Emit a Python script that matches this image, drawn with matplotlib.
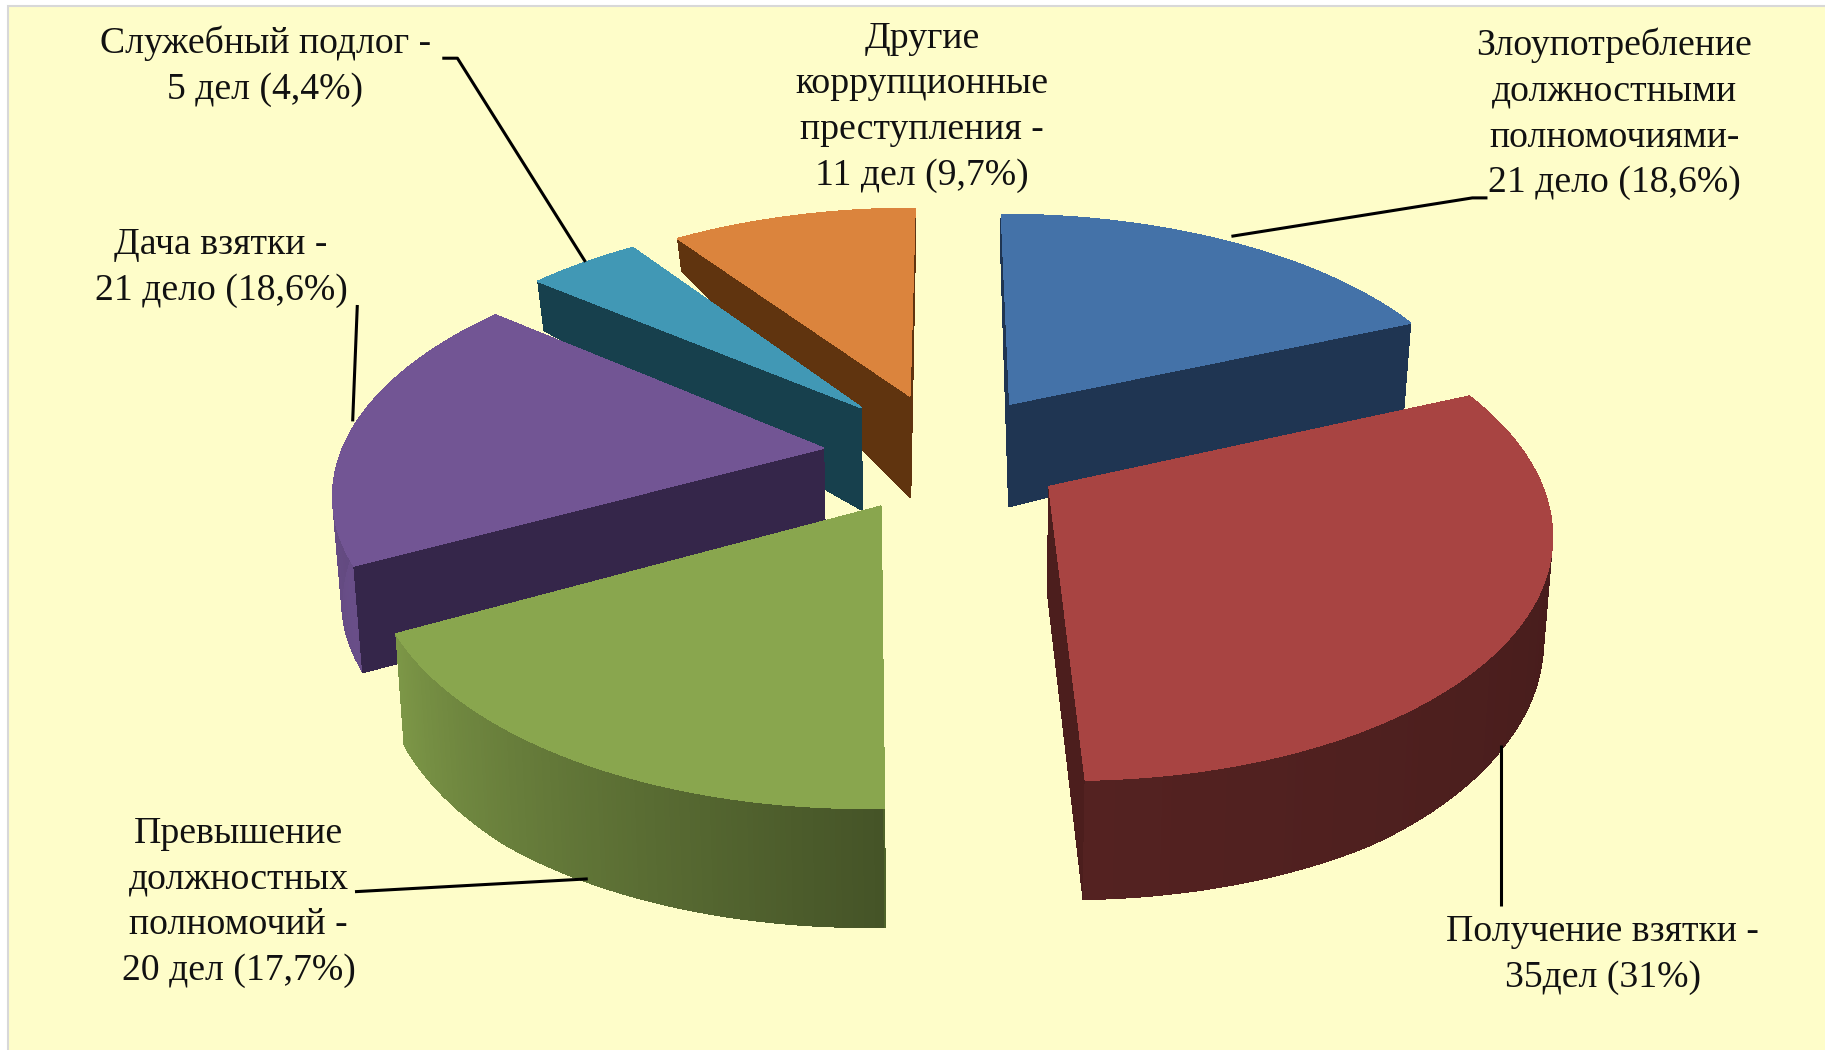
import numpy as np # Import the numpy module as np
import matplotlib
matplotlib.use('Agg')
import matplotlib.pyplot as plt # Import the matplotlib.pyplot module as plt
from matplotlib.collections import PolyCollection
from matplotlib.patches import Rectangle

# Chart data, clockwise from the top
categories = ['Злоупотребление', 'Получение взятки', 'Превышение', 'Дача взятки', 'Служебный подлог', 'Другие']
cases = [21, 35, 20, 21, 5, 11]
labels = [
    'Злоупотребление\nдолжностными\nполномочиями-\n21 дело (18,6%)',
    'Получение взятки -\n35дел (31%)',
    'Превышение\nдолжностных\nполномочий -\n20 дел (17,7%)',
    'Дача взятки -\n21 дело (18,6%)',
    'Служебный подлог -\n5 дел (4,4%)',
    'Другие\nкоррупционные\nпреступления -\n11 дел (9,7%)',
]

# Styles per slice
top_colors = ['#4472A8', '#A84442', '#89A64E', '#725594', '#4198B5', '#DB843D']
cut_colors = ['#1F3552', '#4C1E1D', '#4F6329', '#35264A', '#17404D', '#60340F']
explode = [(0.134, 0.196), (0.206, -0.161), (-0.133, -0.24), (-0.258, 0.0), (-0.185, 0.18), (-0.081, 0.233)]
draw_order = [5, 0, 4, 3, 2, 1]
label_pos = [(1387, 98), (1377, 820), (205, 775), (190, 230), (228, 57), (792, 92)]
leaders = [
    ([1058, 1265, 1278], [203, 170, 170]),
    ([1290, 1290], [640, 778]),
    ([305, 505], [766, 755]),
    ([307, 303], [262, 362]),
    ([380, 393, 503], [50, 50, 225]),
]

# Perspective of the pie plane
CU, CV, RX, RY, PERSP = 814, 385, 413, 200, 0.16
DEPTH_Y = [-1.3, -1, -0.68, -0.44, 0, 0.2, 0.59, 0.81, 1.04, 1.3]
DEPTH_PX = [102, 103, 95, 91, 90, 88, 75, 42, 28, 20]

def project(x, y):
    w = 1 + PERSP * y
    return CU + RX * x / w, CV - RY * y / w

def lower(u, v, y):
    # Same point on the bottom of the pie
    return CU + (u - CU) * 0.985, v + np.interp(y, DEPTH_Y, DEPTH_PX)

def wall_shade(phi):
    return np.interp(phi, [0, 100, 178, 244, 300, 360], [0.42, 0.42, 0.5, 0.92, 0.8, 0.42])

fig = plt.figure(figsize=(18.25, 10.5), dpi=100, facecolor='white')
ax = fig.add_axes([0, 0, 1, 1])
ax.set_xlim(0, 1568)
ax.set_ylim(902, 0)
ax.axis('off')

# Pale yellow slide background
ax.add_patch(Rectangle((7, 5), 1570, 910, facecolor='#FEFDC9', edgecolor='#D8D8D8', linewidth=1.5, zorder=0))

edges = np.concatenate([[0], np.cumsum(cases)]) / np.sum(cases) * 360

z = 2
for i in draw_order:
    x0, y0 = explode[i]
    phi = np.linspace(edges[i], edges[i + 1], 120)
    x = x0 + np.sin(np.radians(phi))
    y = y0 + np.cos(np.radians(phi))
    u, v = project(x, y)
    ub, vb = lower(u, v, y)
    ua, va = project(x0, y0)
    uab, vab = lower(ua, va, y0)

    # Outer wall faces away on the back slice, so it goes under the cut faces there
    wall_z = z if edges[i + 1] < 90 else z + 1
    end_z = z + 1 if edges[i + 1] < 90 else z
    ax.fill([ua, u[-1], ub[-1], uab], [va, v[-1], vb[-1], vab], color=cut_colors[i], linewidth=0.5, antialiased=False, zorder=end_z)
    segs = [[(u[k], v[k]), (u[k + 1], v[k + 1]), (ub[k + 1], vb[k + 1]), (ub[k], vb[k])] for k in range(len(u) - 1)]
    base = np.array(matplotlib.colors.to_rgb(top_colors[i]))
    cols = [tuple(base * wall_shade(p)) for p in phi[:-1]]
    ax.add_collection(PolyCollection(segs, facecolors=cols, edgecolors=cols, linewidths=0.5, antialiased=False, zorder=wall_z))
    z += 2
    ax.fill([ua, u[0], ub[0], uab], [va, v[0], vb[0], vab], color=cut_colors[i], linewidth=0.5, antialiased=False, zorder=z)
    z += 1
    ax.fill(np.r_[ua, u], np.r_[va, v], color=top_colors[i], linewidth=0.5, antialiased=False, zorder=z)
    z += 1

# Leader lines
for lx, ly in leaders:
    ax.plot(lx, ly, color='black', linewidth=2.2, solid_capstyle='butt', zorder=z)

# Labels
for text, (tx, ty) in zip(labels, label_pos):
    ax.text(tx, ty, text, ha='center', va='center', fontsize=27.2, family='Liberation Serif',
            color='#111111', linespacing=1.42, zorder=z)

fig.savefig('out.png', dpi=100, facecolor='white')
